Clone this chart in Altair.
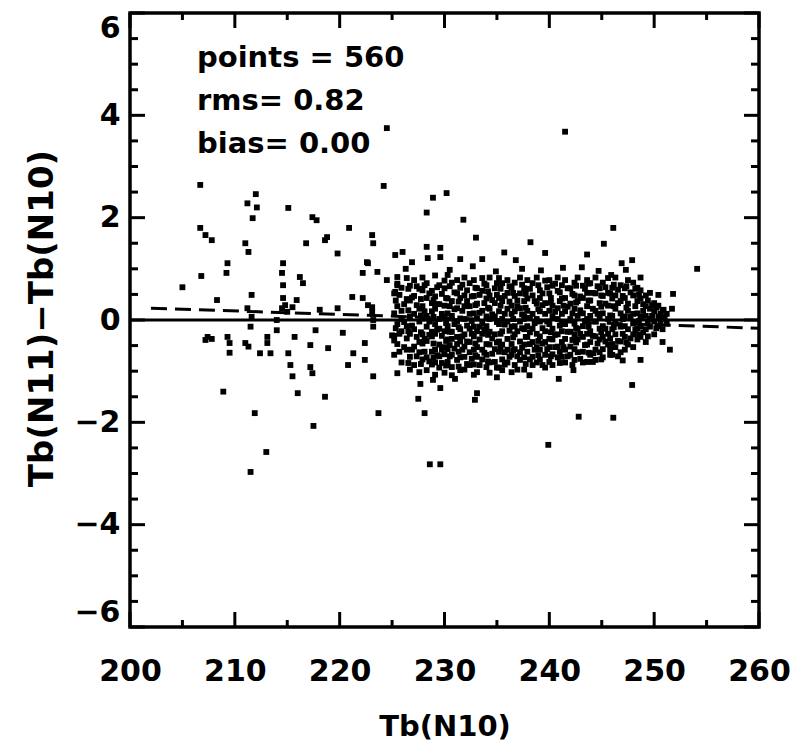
import altair as alt
import pandas as pd

# ---------------- data ----------------
# scattered points outside the dense cloud (Tb(N10), Tb(N11)-Tb(N10))
outliers = [
    (224.5, 3.75), (241.5, 3.68),
    (206.7, 2.64), (212.0, 2.46), (224.2, 2.62), (228.9, 2.39), (230.2, 2.48),
    (211.2, 2.28), (212.1, 2.20), (211.7, 1.99), (215.1, 2.19), (217.4, 2.01), (217.8, 1.95),
    (206.7, 1.80), (207.2, 1.66), (207.8, 1.56), (211.0, 1.50), (211.3, 1.33), (216.8, 1.50),
    (218.8, 1.62), (218.6, 1.56), (220.9, 1.80), (223.1, 1.66), (223.2, 1.50), (219.8, 1.30),
    (225.3, 1.27), (226.0, 1.33), (226.9, 1.13), (228.3, 1.43), (228.3, 2.10), (228.4, 1.21),
    (209.3, 1.11), (209.2, 0.92), (206.8, 0.86),
    (214.6, 1.11), (214.5, 0.92), (214.6, 0.68), (214.6, 0.43),
    (216.2, 0.84), (216.5, 0.72),
    (222.7, 1.11), (222.2, 0.92), (223.6, 0.94), (222.6, 1.13),
    (224.5, 0.78), (225.5, 0.84), (225.5, 0.68), (225.3, 0.55),
    (208.3, 0.39), (211.6, 0.49), (215.9, 0.39), (221.2, 0.45), (222.2, 0.43), (223.1, 0.25),
    (211.2, 0.23), (215.5, 0.25), (205.0, 0.64),
    (207.4, -0.33), (207.2, -0.39), (207.8, -0.37),
    (209.3, -0.33), (209.5, -0.45), (209.5, -0.64), (208.9, -1.40),
    (211.0, -0.45), (211.3, -0.52), (211.5, -0.13), (211.6, 0.06),
    (212.4, -0.65), (213.1, -0.45), (213.4, -0.65), (213.1, -0.33),
    (214.0, 0.00), (214.0, -0.20),
    (214.5, 0.23), (214.8, 0.29), (215.0, 0.16),
    (215.1, -0.65), (215.3, -0.88), (215.5, -1.10), (215.7, -0.33), (216.0, -1.43),
    (217.2, -0.49), (217.2, -0.92), (217.4, -1.04), (217.7, -0.20), (218.1, 0.20),
    (218.6, -1.50), (218.9, -0.55), (217.5, -2.07), (211.9, -1.82),
    (219.8, 0.23), (220.3, -0.25), (220.8, -0.88), (221.3, -0.65), (222.4, -0.78), (222.4, -0.45),
    (222.7, 0.29), (223.1, 0.16), (223.2, 0.00), (223.2, -0.13),
    (223.2, -1.10), (225.5, -1.04), (223.7, -1.82),
    (213.0, -2.58), (211.5, -2.97),
    (225.0, -0.30), (225.2, -0.40),
    (227.7, -1.25), (227.5, -1.54), (228.1, -1.82), (228.6, -2.82), (229.6, -2.82),
    (239.9, -2.44), (242.8, -1.89), (246.1, -1.91),
    (229.6, -1.33), (228.9, -1.17), (233.1, -1.43), (232.9, -1.56),
    (240.9, -1.15), (242.3, -0.98), (247.9, -1.27),
    (247.0, -0.79), (248.7, -0.78), (250.8, -0.43), (251.5, -0.58),
    (243.6, -0.82), (244.2, -0.65), (245.8, -0.57),
    (246.1, 1.80), (245.2, 1.49), (243.6, 1.28), (246.9, 1.11), (247.9, 1.17), (254.1, 1.00),
    (245.9, 0.88), (248.7, 0.83), (250.4, 0.49), (251.8, 0.51), (251.7, 0.22), (250.9, 0.20),
    (231.8, 1.96), (233.0, 1.61), (238.2, 1.52), (239.6, 1.31),
    (229.6, 1.41), (229.6, 1.23), (231.5, 1.19), (233.6, 1.19), (235.7, 1.32), (236.8, 1.17),
    (243.1, 1.03),
    (226.3, 1.00), (230.5, 0.98), (232.7, 1.05), (234.9, 0.95), (237.4, 1.00),
    (239.2, 0.97), (241.3, 1.02), (244.7, 0.96), (247.3, 0.98),
    (231.0, -1.15), (235.0, -1.12), (238.1, -1.08),
]

# dense cloud, read column by column: x positions and the y values in each column
cloud_x = [
    225.2, 225.5, 225.9, 226.4, 226.7, 227.1, 227.6, 227.9, 228.3, 228.8,
    229.1, 229.5, 230.0, 230.3, 230.7, 231.2, 231.5, 231.9, 232.4, 232.8,
    233.1, 233.6, 234.0, 234.3, 234.8, 235.2, 235.5, 236.0, 236.4, 236.7,
    237.2, 237.6, 237.9, 238.4, 238.8, 239.1, 239.6, 240.0, 240.3, 240.8,
    241.2, 241.5, 242.0, 242.4, 242.7, 243.2, 243.6, 243.9, 244.4, 244.8,
    245.1, 245.6, 246.0, 246.3, 246.8, 247.2, 247.5, 248.0, 248.4, 248.7,
    249.2, 249.6, 250.0, 250.4, 250.8, 251.2,
]
cloud_y = [
    [0.52, 0.13, -0.31, -0.68],
    [0.71, 0.27, -0.08, -0.47],
    [0.63, 0.18, -0.22, -0.83, 0.02],
    [0.82, 0.41, -0.12, -0.36, -0.58],
    [0.67, 0.38, 0.07, -0.27, -0.72, -0.97],
    [0.78, 0.47, 0.12, -0.18, -0.52, -0.88],
    [0.61, 0.22, -0.03, -0.43, -0.63, -1.02],
    [0.83, 0.58, 0.27, 0.03, -0.28, -0.46, -0.77],
    [0.72, 0.43, 0.08, -0.13, -0.41, -0.73, -0.98],
    [0.57, 0.33, 0.17, -0.23, -0.32, -0.62, -0.87],
    [0.87, 0.46, 0.22, -0.08, -0.27, -0.58, -0.83, -1.07],
    [0.68, 0.31, 0.02, -0.17, -0.48, -0.71, -0.93],
    [0.77, 0.62, 0.28, 0.07, -0.22, -0.53, -0.67, -1.03],
    [0.88, 0.42, 0.13, -0.12, -0.38, -0.57, -0.82],
    [0.73, 0.37, 0.08, -0.23, -0.37, -0.68, -0.92, -1.08],
    [0.78, 0.52, 0.23, -0.02, -0.33, -0.47, -0.78],
    [0.63, 0.43, 0.03, -0.18, -0.42, -0.73, -0.98],
    [0.83, 0.48, 0.27, 0.02, -0.28, -0.52, -0.72, -0.97],
    [0.72, 0.27, 0.12, -0.17, -0.43, -0.63, -0.88],
    [0.78, 0.47, 0.13, -0.13, -0.32, -0.58, -0.87, -1.07],
    [0.62, 0.32, 0.03, -0.22, -0.53, -0.72, -1.02],
    [0.82, 0.57, 0.18, -0.07, -0.27, -0.58, -0.77],
    [0.68, 0.42, 0.07, -0.12, -0.47, -0.68, -0.92],
    [0.83, 0.48, 0.22, 0.02, -0.23, -0.48, -0.83, -1.03],
    [0.62, 0.33, 0.07, -0.28, -0.57, -0.82],
    [0.82, 0.43, 0.17, -0.08, -0.42, -0.62, -0.93],
    [0.72, 0.37, 0.02, -0.22, -0.48, -0.77, -0.98],
    [0.78, 0.53, 0.22, -0.03, -0.37, -0.58, -0.83],
    [0.63, 0.28, 0.12, -0.13, -0.47, -0.68, -1.02],
    [0.73, 0.47, 0.17, -0.12, -0.28, -0.57, -0.88],
    [0.83, 0.52, 0.23, -0.03, -0.42, -0.63, -0.78],
    [0.62, 0.37, 0.07, -0.18, -0.48, -0.73, -0.97],
    [0.78, 0.42, 0.18, -0.12, -0.33, -0.62],
    [0.72, 0.48, 0.12, -0.17, -0.43, -0.72, -0.88],
    [0.83, 0.32, 0.02, -0.27, -0.53, -0.83],
    [0.58, 0.43, 0.17, -0.03, -0.32, -0.58, -0.77],
    [0.77, 0.33, 0.12, -0.22, -0.43, -0.68, -0.93],
    [0.78, 0.52, 0.18, -0.08, -0.37, -0.53, -0.82],
    [0.67, 0.28, 0.07, -0.17, -0.38, -0.67, -0.88],
    [0.83, 0.57, 0.23, 0.02, -0.28, -0.52, -0.73],
    [0.68, 0.42, 0.12, -0.22, -0.43, -0.72],
    [0.78, 0.43, 0.17, -0.08, -0.37, -0.58, -0.83],
    [0.62, 0.32, 0.02, -0.23, -0.52, -0.68],
    [0.73, 0.48, 0.22, -0.07, -0.28, -0.57, -0.78],
    [0.83, 0.37, 0.08, -0.17, -0.38, -0.63],
    [0.67, 0.43, 0.13, -0.12, -0.33, -0.62, -0.83],
    [0.78, 0.53, 0.27, 0.02, -0.27, -0.48],
    [0.72, 0.38, 0.08, -0.22, -0.43, -0.68],
    [0.83, 0.52, 0.18, -0.03, -0.32, -0.58, -0.78],
    [0.62, 0.33, 0.07, -0.17, -0.38, -0.63],
    [0.73, 0.47, 0.13, -0.12, -0.33, -0.57, -0.73],
    [0.82, 0.53, 0.28, 0.02, -0.27, -0.48],
    [0.63, 0.42, 0.08, -0.18, -0.47, -0.68],
    [0.83, 0.48, 0.22, -0.07, -0.28, -0.53],
    [0.68, 0.37, 0.13, -0.13, -0.42, -0.63],
    [0.62, 0.43, 0.07, -0.12, -0.33, -0.58],
    [0.78, 0.32, 0.18, -0.18, -0.48],
    [0.73, 0.48, 0.12, -0.07, -0.28, -0.53],
    [0.63, 0.37, 0.13, -0.17, -0.38],
    [0.58, 0.42, 0.07, -0.12, -0.33],
    [0.48, 0.27, 0.08, -0.18, -0.43],
    [0.53, 0.22, 0.02, -0.13],
    [0.33, 0.17, -0.03, -0.28],
    [0.28, 0.07, -0.12],
    [0.18, 0.02, -0.18],
    [0.12, -0.07],
]

# second pass over the cloud, between the columns above
cloud2_x = [
    225.35, 225.7, 226.15, 226.55, 226.9, 227.35, 227.75, 228.1, 228.55, 228.95,
    229.3, 229.75, 230.15, 230.5, 230.95, 231.35, 231.7, 232.15, 232.6, 232.95,
    233.35, 233.8, 234.15, 234.55, 235.0, 235.35, 235.75, 236.2, 236.55, 236.95,
    237.4, 237.75, 238.15, 238.6, 238.95, 239.35, 239.8, 240.15, 240.55, 241.0,
    241.35, 241.75, 242.2, 242.55, 242.95, 243.4, 243.75, 244.15, 244.6, 244.95,
    245.35, 245.8, 246.15, 246.55, 247.0, 247.35, 247.75, 248.2, 248.55, 248.95,
    249.4, 249.8, 250.2, 250.6, 251.0,
]
cloud2_y = [
    [0.38, -0.16], [0.49, -0.27, -0.62], [0.31, -0.04, -0.53], [0.61, 0.19, -0.22, -0.84],
    [0.44, -0.11, -0.58], [0.66, 0.29, -0.33, -0.71], [0.41, 0.09, -0.24, -0.86],
    [0.68, 0.17, -0.37, -0.62], [0.52, -0.03, -0.29, -0.81], [0.39, 0.06, -0.46, -0.74],
    [0.64, 0.31, -0.19, -0.69], [0.51, 0.12, -0.31, -0.58, -0.84], [0.43, -0.06, -0.41, -0.89],
    [0.66, 0.27, -0.23, -0.49, -0.71], [0.54, 0.21, -0.08, -0.56], [0.36, -0.14, -0.62, -0.91],
    [0.69, 0.18, -0.32, -0.58], [0.58, 0.37, -0.11, -0.42, -0.86], [0.46, -0.02, -0.27, -0.76],
    [0.63, 0.29, -0.46, -0.69], [0.49, 0.14, -0.13, -0.38, -0.88], [0.71, 0.33, -0.19, -0.64],
    [0.56, 0.24, -0.29, -0.81], [0.39, 0.11, -0.36, -0.66], [0.72, 0.49, -0.04, -0.44, -0.93],
    [0.61, 0.28, -0.27, -0.54], [0.47, 0.12, -0.09, -0.63, -0.87], [0.66, 0.36, -0.21, -0.72],
    [0.53, 0.02, -0.34, -0.59], [0.38, 0.27, -0.22, -0.71, -0.97], [0.69, 0.11, -0.16, -0.54],
    [0.51, 0.24, -0.33, -0.86], [0.61, 0.04, -0.24, -0.47, -0.77], [0.37, -0.06, -0.58],
    [0.68, 0.21, -0.41, -0.69], [0.52, 0.29, -0.16, -0.46, -0.88], [0.64, -0.03, -0.57],
    [0.43, 0.34, -0.24, -0.71], [0.71, 0.16, -0.29, -0.53], [0.54, 0.37, -0.11, -0.62, -0.84],
    [0.28, -0.04, -0.53], [0.62, 0.26, -0.23, -0.71], [0.51, 0.13, -0.39, -0.88],
    [0.67, 0.34, -0.16, -0.44], [0.46, 0.19, -0.27, -0.76], [0.61, -0.02, -0.49],
    [0.71, 0.38, -0.13, -0.64], [0.53, 0.22, -0.31, -0.82], [0.66, 0.12, -0.46],
    [0.48, 0.26, -0.24, -0.77], [0.64, 0.32, -0.17, -0.42], [0.52, 0.09, -0.36, -0.68],
    [0.69, 0.27, -0.14], [0.59, 0.33, -0.41, -0.71], [0.47, 0.02, -0.27],
    [0.66, 0.24, -0.44], [0.54, 0.06, -0.36], [0.61, 0.27, -0.19],
    [0.49, -0.02, -0.29], [0.31, 0.18, -0.24], [0.38, -0.06, -0.32],
    [0.29, 0.08], [0.24, -0.16], [0.12, -0.07], [0.06],
]
assert len(cloud_x) == len(cloud_y) and len(cloud2_x) == len(cloud2_y)

# fitted (dashed) line end points
fit_x = [202.0, 260.0]
fit_y = [0.23, -0.16]

# tick values
x_major = [200, 210, 220, 230, 240, 250, 260]
x_minor = [205, 215, 225, 235, 245, 255]
y_major = [-6, -4, -2, 0, 2, 4, 6]
y_minor = [-5.5, -5, -4.5, -3.5, -3, -2.5, -1.5, -1, -0.5,
           0.5, 1, 1.5, 2.5, 3, 3.5, 4.5, 5, 5.5]

stats_text = "points = 560\nrms= 0.82\nbias= 0.00"
x_title = "Tb(N10)"
y_title = "Tb(N11)\u2212Tb(N10)"

# ---------------- chart ----------------
W, H = 629, 614
FONT = "DejaVu Sans"
WEIGHT = "bold"

rows = [{"x": x, "y": y} for x, y in outliers]
for colx, coly in ((cloud_x, cloud_y), (cloud2_x, cloud2_y)):
    for cx, ys in zip(colx, coly):
        for y in ys:
            rows.append({"x": cx, "y": y})
pts = pd.DataFrame(rows)

xs = alt.Scale(domain=[200, 260], nice=False, zero=False)
ys_ = alt.Scale(domain=[-6, 6], nice=False, zero=False)

x_axis = alt.Axis(values=x_major, ticks=False, domain=False, grid=False,
                  labelFontSize=30, labelFont=FONT, labelColor="black",
                  labelFontWeight=WEIGHT,
                  labelPadding=29, labelFlush=False,
                  titleFont=FONT, titleFontSize=29, titleFontWeight=WEIGHT,
                  titleColor="black", titleBaseline="alphabetic",
                  titleY=108, titleX=W / 2)
y_axis = alt.Axis(values=y_major, ticks=False, domain=False, grid=False,
                  labelFontSize=30, labelFont=FONT, labelColor="black",
                  labelFontWeight=WEIGHT,
                  labelPadding=10, labelFlush=True,
                  titleFont=FONT, titleFontSize=34, titleFontWeight=WEIGHT,
                  titleColor="black", titleBaseline="alphabetic",
                  titleAngle=270, titleX=-78, titleY=305)


def X(field):
    return alt.X(field, type="quantitative", scale=xs, axis=x_axis, title=x_title)


def Y(field):
    return alt.Y(field, type="quantitative", scale=ys_, axis=y_axis, title=y_title)


points = alt.Chart(pts).mark_square(size=34, color="black", opacity=1).encode(
    x=X("x"), y=Y("y"))

zero_line = alt.Chart(pd.DataFrame({"y": [0]})).mark_rule(
    color="black", strokeWidth=3).encode(y=Y("y"))

fit_line = alt.Chart(pd.DataFrame({"x": fit_x, "y": fit_y})).mark_line(
    color="black", strokeWidth=3, strokeDash=[16, 8]).encode(x=X("x"), y=Y("y"))


def xticks(vals, length):
    d = pd.DataFrame({"v": vals})
    bottom = alt.Chart(d).mark_rule(color="black", strokeWidth=3).encode(
        x=X("v"), y=alt.value(H), y2=alt.value(H - length))
    top = alt.Chart(d).mark_rule(color="black", strokeWidth=3).encode(
        x=X("v"), y=alt.value(0), y2=alt.value(length))
    return [bottom, top]


def yticks(vals, length):
    d = pd.DataFrame({"v": vals})
    left = alt.Chart(d).mark_rule(color="black", strokeWidth=3).encode(
        y=Y("v"), x=alt.value(0), x2=alt.value(length))
    right = alt.Chart(d).mark_rule(color="black", strokeWidth=3).encode(
        y=Y("v"), x=alt.value(W), x2=alt.value(W - length))
    return [left, right]


stats = alt.Chart(pd.DataFrame({"t": [stats_text]})).mark_text(
    align="left", baseline="alphabetic", font=FONT, fontSize=29,
    fontWeight=WEIGHT, color="black", lineBreak="\n", lineHeight=43).encode(
    text="t:N", x=alt.value(67), y=alt.value(54))

layers = ([points, zero_line, fit_line]
          + xticks(x_major, 15) + xticks(x_minor, 7)
          + yticks(y_major, 15) + yticks(y_minor, 8)
          + [stats])

chart = alt.layer(*layers).properties(
    width=W, height=H,
    autosize=alt.AutoSizeParams(type="none"),
    padding={"left": 130, "top": 13, "right": 41, "bottom": 118},
    background="white",
).configure_view(stroke="black", strokeWidth=3.5)

chart.save("out.html", embed_options={"renderer": "svg", "actions": False})
